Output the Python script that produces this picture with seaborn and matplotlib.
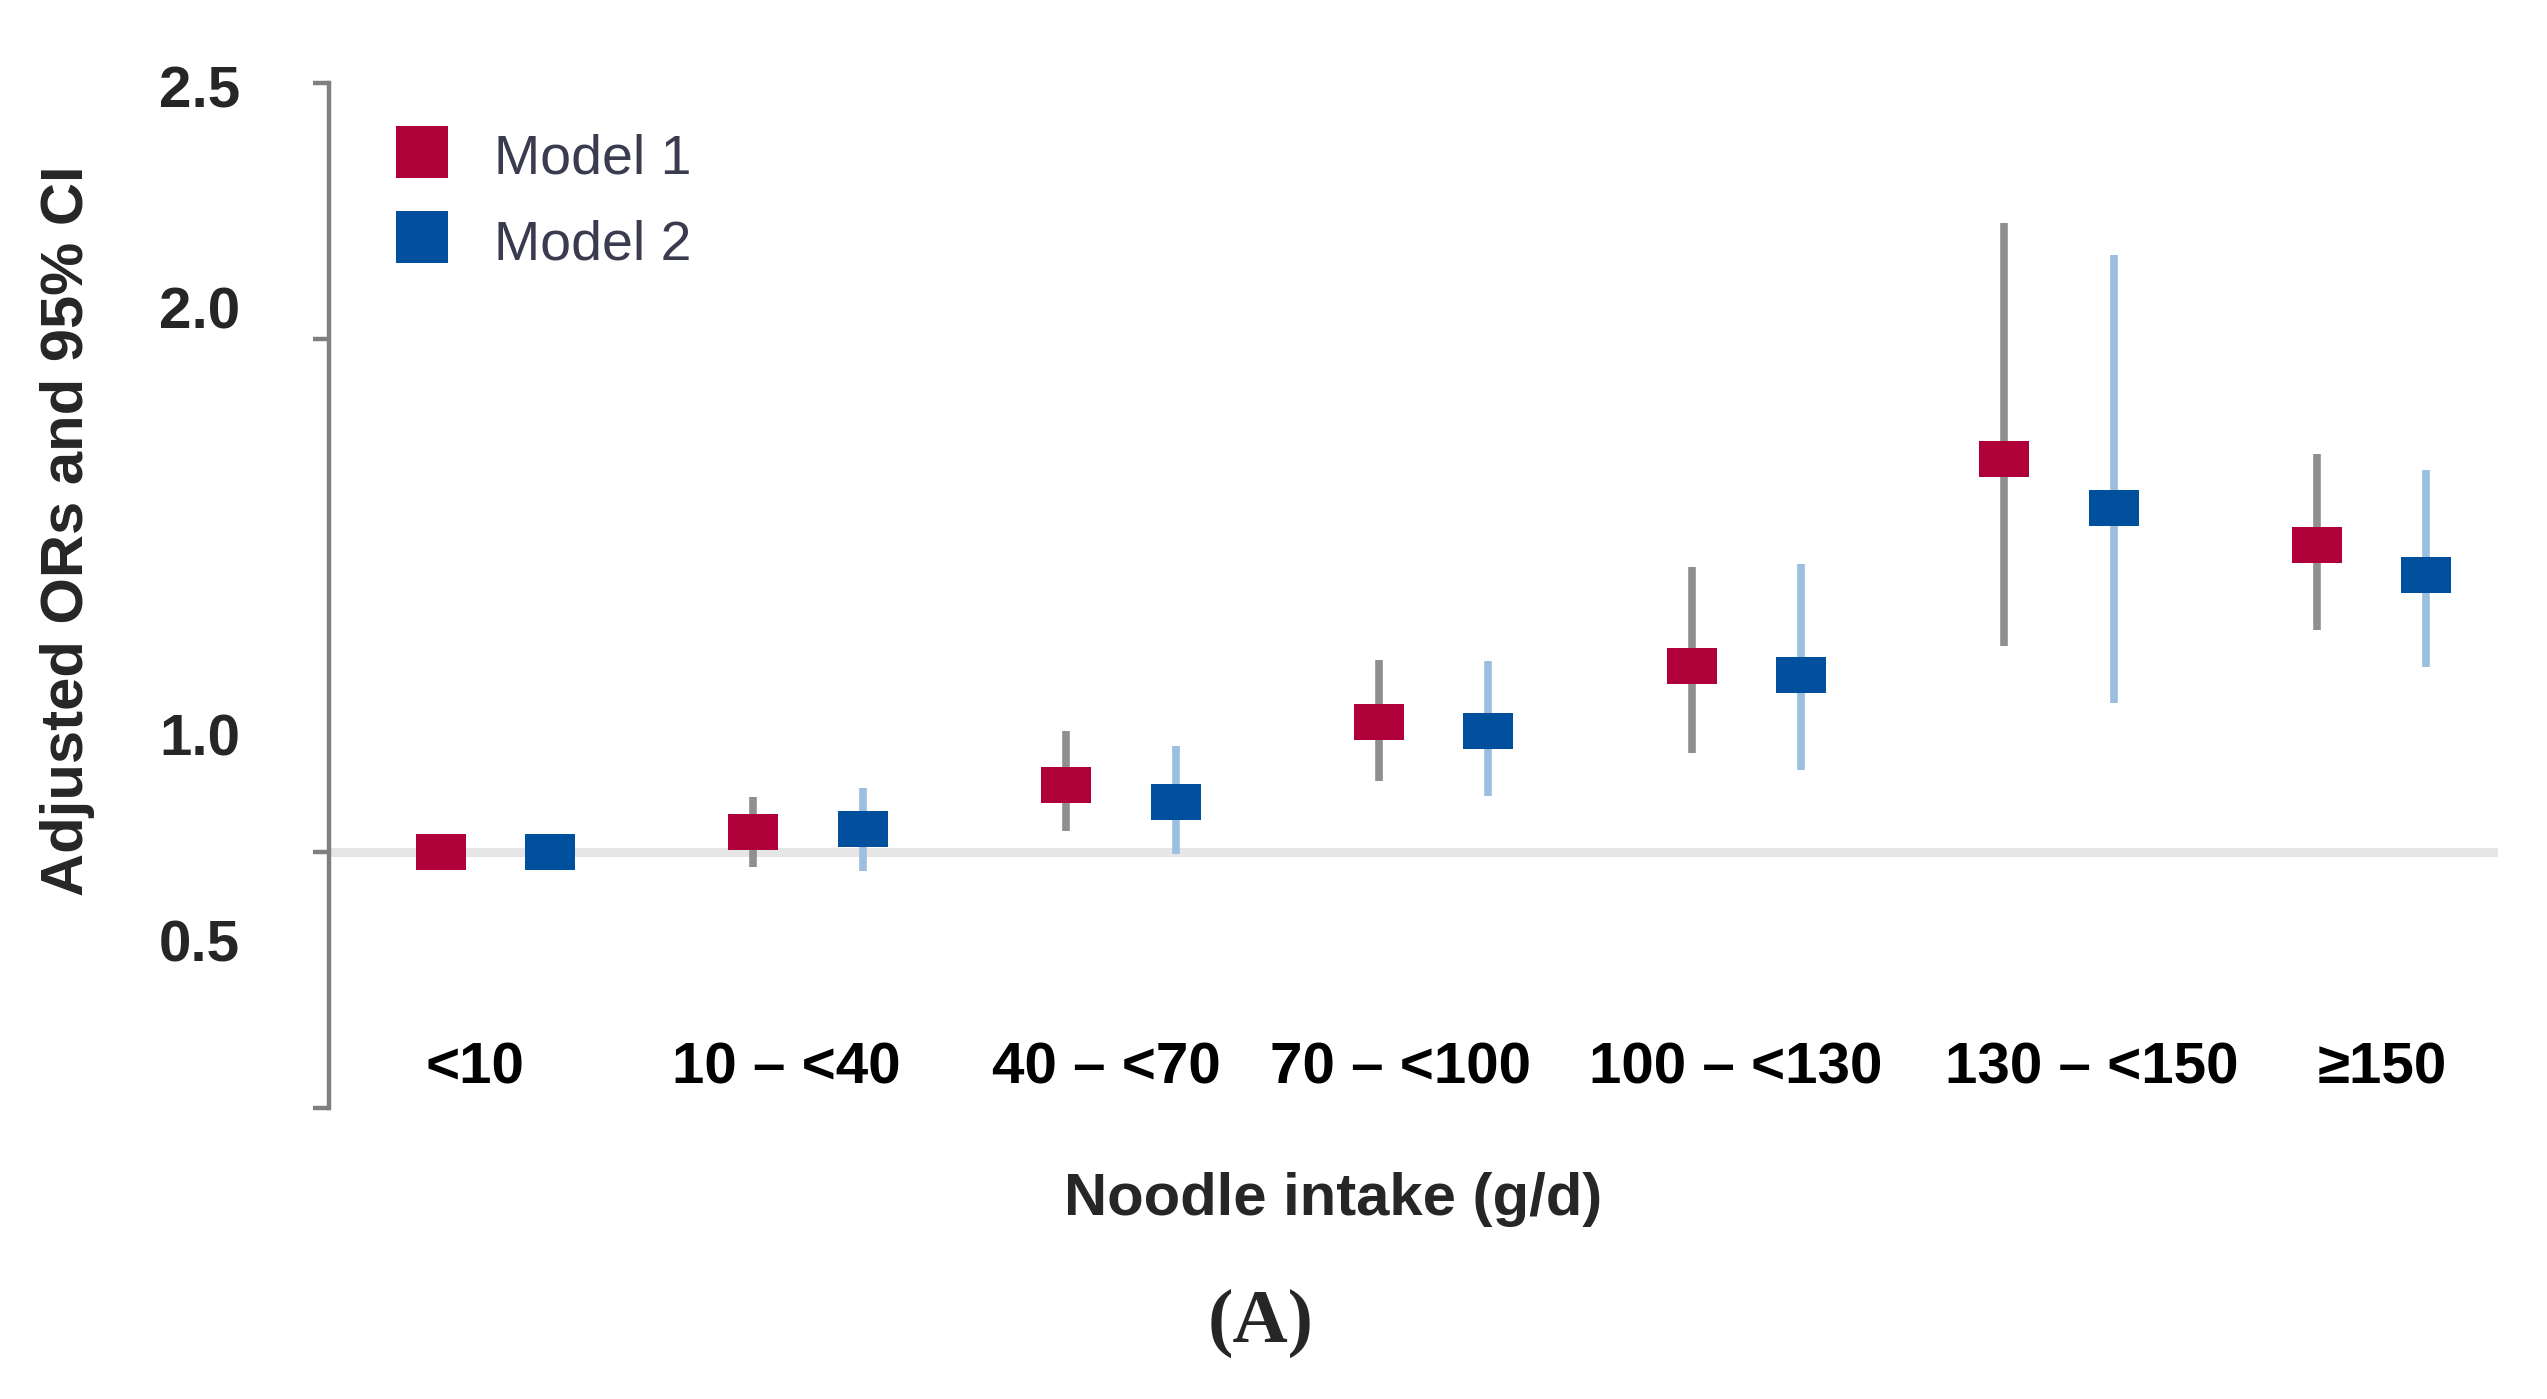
import numpy as np
import pandas as pd
import matplotlib
matplotlib.use("Agg")
import matplotlib.pyplot as plt
import seaborn as sns
from matplotlib.lines import Line2D

# ---------------- data ----------------
categories = ["<10", "10 – <40", "40 – <70", "70 – <100", "100 – <130", "130 – <150", "≥150"]
models = ["Model 1", "Model 2"]
model1_or = [1.00, 1.039, 1.130, 1.253, 1.362, 1.767, 1.598]
model1_lo = [1.00, 0.970, 1.041, 1.138, 1.193, 1.402, 1.433]
model1_hi = [1.00, 1.107, 1.236, 1.374, 1.555, 2.226, 1.777]
model2_or = [1.00, 1.044, 1.097, 1.235, 1.344, 1.671, 1.540]
model2_lo = [1.00, 0.962, 0.995, 1.109, 1.159, 1.290, 1.361]
model2_hi = [1.00, 1.125, 1.207, 1.373, 1.562, 2.164, 1.744]
ytick_values = [0.5, 1.0, 2.0, 2.5]
ytick_labels = ["0.5", "1.0", "2.0", "2.5"]

# where the printed tick labels sit (layout)
ytick_label_at = [0.826, 1.228, 2.061, 2.493]
xtick_label_at = [-0.065, 0.929, 1.953, 2.893, 3.967, 5.106, 6.033]

# ---------------- style ----------------
sns.set_style("white")
plt.rcParams['font.family'] = ['Liberation Sans', 'DejaVu Sans']

marker_colors = {"Model 1": "#b0003a", "Model 2": "#00509d"}
whisker_colors = {"Model 1": "#8f8f8f", "Model 2": "#9cbfe0"}
dodge = {"Model 1": -0.175, "Model 2": 0.175}

rows = []
for m, ors, los, his in [("Model 1", model1_or, model1_lo, model1_hi),
                         ("Model 2", model2_or, model2_lo, model2_hi)]:
    for i, c in enumerate(categories):
        rows.append(dict(category=c, model=m, pos=i + dodge[m],
                         OR=ors[i], lo=los[i], hi=his[i]))
df = pd.DataFrame(rows)

W, H = 2547, 1399
fig = plt.figure(figsize=(W / 100, H / 100), dpi=100)
ax = fig.add_axes([329 / W, 1 - 1108 / H, (2497.7 - 329) / W, (1108 - 83) / H])

# reference line (OR = 1)
ax.axhline(1.0, color="#e6e6e6", lw=6.5, zorder=0.5)

# confidence intervals
for m in models:
    sub = df[df.model == m]
    ax.vlines(sub.pos, sub.lo, sub.hi, color=whisker_colors[m], lw=5.5, zorder=2)

# point estimates (rectangular markers)
rect = np.array([[-25, -18], [25, -18], [25, 18], [-25, 18], [-25, -18]])
sns.scatterplot(data=df, x="pos", y="OR", hue="model", palette=marker_colors,
                marker=rect, s=36 ** 2, linewidth=0, edgecolor="none",
                legend=False, zorder=3, ax=ax)

# axes
ax.set_xlim(-0.532, 6.403)
ax.set_ylim(0.5, 2.5)
for s in ["top", "right", "bottom"]:
    ax.spines[s].set_visible(False)
ax.spines["left"].set_color("#808080")
ax.spines["left"].set_linewidth(3.2)

ax.set_xticks(xtick_label_at)
ax.set_xticklabels(categories, fontsize=42, fontweight="bold", va="baseline")
ax.tick_params(axis="x", length=0, pad=-17.3, colors="black")

ax.set_yticks(ytick_values, minor=True)
ax.set_yticks(ytick_label_at)
ax.set_yticklabels(ytick_labels, fontsize=42, fontweight="bold")
ax.tick_params(axis="y", which="major", length=0, pad=64)
ax.tick_params(axis="y", which="minor", length=11.5, width=3.2, color="#808080",
               direction="out", left=True)
ax.set_xlabel("")
ax.set_ylabel("")

# titles
fig.text(67.6 / W, 1 - 531 / H, "Adjusted ORs and 95% CI", rotation=90,
         ha="center", va="center", fontsize=43, fontweight="bold")
fig.text(1333 / W, 1 - 1215 / H, "Noodle intake (g/d)", ha="center", va="baseline",
         fontsize=43, fontweight="bold")
fig.text(1260.5 / W, 1 - 1342 / H, "(A)", ha="center", va="baseline", fontsize=55,
         fontweight="bold", family=["Liberation Serif", "DejaVu Serif"])

# legend
handles = [Line2D([], [], marker="s", ls="", markersize=38, markeredgewidth=0,
                  color=marker_colors[m]) for m in models]
leg = ax.legend(handles, models, loc="upper left", bbox_to_anchor=(394.7 / W, 1 - 130 / H),
                bbox_transform=fig.transFigure, frameon=False, fontsize=40,
                handlelength=1.0, handleheight=1.0, handletextpad=0.786,
                labelspacing=0.53, borderpad=0, borderaxespad=0)
for t in leg.get_texts():
    t.set_color("#3b3b4f")

fig.savefig("out.png", dpi=100, facecolor="white")
